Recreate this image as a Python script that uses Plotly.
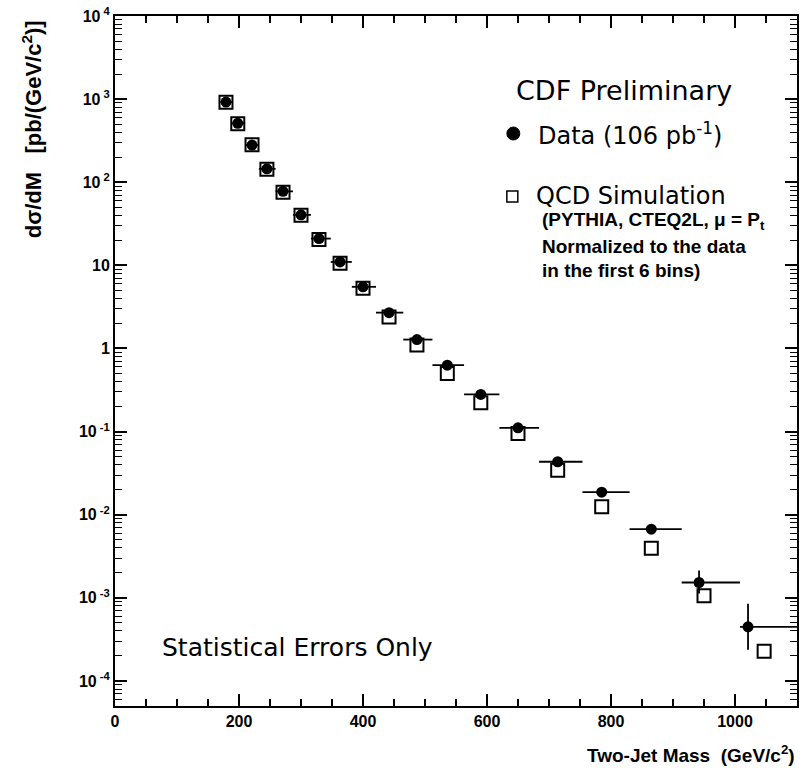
import plotly.graph_objects as go

# ---------------- data ----------------
mass = [179, 198, 221, 245, 271, 300, 329, 363, 400, 442, 487, 536, 590, 650, 714, 785, 865, 942, 1021]
bin_lo = [170, 189, 210, 232, 259, 287, 316, 348, 382, 421, 465, 512, 563, 620, 684, 754, 830, 914, 1008]
bin_hi = [189, 210, 232, 259, 287, 316, 348, 382, 421, 465, 512, 563, 620, 684, 754, 830, 914, 1008, 1100]
data_xsec = [923, 512, 280, 145, 77.7, 40.5, 21.0, 11.0, 5.52, 2.70, 1.28, 0.63, 0.28, 0.111,
             0.0434, 0.0187, 0.00671, 0.00153, 0.000448]
data_err_up = [5, 3, 2, 1.2, 0.7, 0.4, 0.25, 0.15, 0.09, 0.05, 0.03, 0.02, 0.012, 0.006,
               0.003, 0.0015, 0.0007, 0.0006, 0.0004]
data_err_dn = [5, 3, 2, 1.2, 0.7, 0.4, 0.25, 0.15, 0.09, 0.05, 0.03, 0.02, 0.012, 0.006,
               0.003, 0.0015, 0.0007, 0.0004, 0.00021]
sim_mass = [179, 198, 221, 245, 271, 300, 329, 363, 400, 442, 487, 536, 590, 650, 714, 785, 865, 950, 1047]
sim_xsec = [920, 505, 282, 143, 76, 40, 20.5, 10.6, 5.3, 2.40, 1.10, 0.50, 0.222, 0.095,
            0.0344, 0.0125, 0.00394, 0.00106, 0.000228]

y_tickvals = [1e-4, 1e-3, 1e-2, 1e-1, 1, 10, 100, 1000, 10000]
y_ticktext = ["10<sup> -4</sup>", "10<sup> -3</sup>", "10<sup> -2</sup>", "10<sup> -1</sup>",
              "1", "10", "10<sup> 2</sup>", "10<sup> 3</sup>", "10<sup> 4</sup>"]
x_tickvals = [0, 200, 400, 600, 800, 1000]

# ---------------- layout geometry (pixels) ----------------
W, H = 804, 770
ML, MR, MT, MB = 115, 5, 16, 64
PW, PH = W - ML - MR, H - MT - MB


def px(x):
    return (x - ML) / PW


def py(y):
    return (H - MB - y) / PH


ex_plus = [h - m for h, m in zip(bin_hi, mass)]
ex_minus = [m - l for m, l in zip(mass, bin_lo)]

fig = go.Figure()

fig.add_trace(go.Scatter(
    x=sim_mass, y=sim_xsec, mode="markers",
    marker=dict(symbol="square-open", size=13, color="black", line=dict(width=2, color="black")),
    showlegend=False, cliponaxis=False,
))

fig.add_trace(go.Scatter(
    x=mass, y=data_xsec, mode="markers",
    marker=dict(symbol="circle", size=11, color="black"),
    error_x=dict(type="data", array=ex_plus, arrayminus=ex_minus, symmetric=False,
                 color="black", thickness=1.8, width=0),
    error_y=dict(type="data", array=data_err_up, arrayminus=data_err_dn, symmetric=False,
                 color="black", thickness=1.8, width=0),
    showlegend=False,
))

tick_font = dict(family="Liberation Sans, Arial, sans-serif", size=16, color="black", weight="bold")
text_font = "DejaVu Sans, sans-serif"
small_font = "Liberation Sans, Arial, sans-serif"

fig.update_xaxes(
    range=[0, 1100], showgrid=False, zeroline=False,
    showline=True, linecolor="black", linewidth=2, mirror="ticks",
    ticks="inside", ticklen=12, tickwidth=1.5, tickcolor="black",
    tickvals=x_tickvals, tickfont=tick_font,
    minor=dict(ticks="inside", ticklen=7, tickwidth=1.5, tickcolor="black", dtick=50, showgrid=False),
)
fig.update_yaxes(
    type="log", range=[-4.301, 4], showgrid=False, zeroline=False,
    showline=True, linecolor="black", linewidth=2, mirror="ticks",
    ticks="inside", ticklen=12, tickwidth=1.5, tickcolor="black",
    tickvals=y_tickvals, ticktext=y_ticktext, tickfont=tick_font,
    minor=dict(ticks="inside", ticklen=7, tickwidth=1.3, tickcolor="black", dtick="D1", showgrid=False),
)

annotations = [
    dict(text="dσ/dM   [pb/(GeV/c<sup>2</sup>)]", textangle=-90,
         x=px(32), y=py(18), xanchor="center", yanchor="top",
         font=dict(family="Liberation Sans, Arial, sans-serif", size=22, color="black", weight="bold")),
    dict(text="Two-Jet Mass  (GeV/c<sup>2</sup>)",
         x=px(799), y=py(754), xanchor="right", yanchor="middle",
         font=dict(family="Liberation Sans, Arial, sans-serif", size=19, color="black", weight="bold")),
    dict(text="CDF Preliminary", x=px(515), y=py(90), xanchor="left", yanchor="middle",
         font=dict(family=text_font, size=27, color="black")),
    dict(text="Data (106 pb<sup>-1</sup>)", x=px(537), y=py(134), xanchor="left", yanchor="middle",
         font=dict(family=text_font, size=24, color="black")),
    dict(text="QCD Simulation", x=px(535), y=py(196), xanchor="left", yanchor="middle",
         font=dict(family=text_font, size=24, color="black")),
    dict(text="(PYTHIA, CTEQ2L, μ = P<sub>t</sub>", x=px(541), y=py(221), xanchor="left", yanchor="middle",
         font=dict(family=small_font, size=19, color="black", weight="bold")),
    dict(text="Normalized to the data", x=px(541), y=py(246), xanchor="left", yanchor="middle",
         font=dict(family=small_font, size=19, color="black", weight="bold")),
    dict(text="in the first 6 bins)", x=px(541), y=py(270), xanchor="left", yanchor="middle",
         font=dict(family=small_font, size=19, color="black", weight="bold")),
    dict(text="Statistical Errors Only", x=px(160), y=py(647), xanchor="left", yanchor="middle",
         font=dict(family=text_font, size=25, color="black")),
]
for a in annotations:
    a.update(xref="paper", yref="paper", showarrow=False)

shapes = [
    dict(type="circle", xref="paper", yref="paper",
         x0=px(508), x1=px(521), y0=py(140), y1=py(127),
         fillcolor="black", line=dict(color="black", width=1)),
    dict(type="rect", xref="paper", yref="paper",
         x0=px(508), x1=px(519), y0=py(202), y1=py(191),
         fillcolor="rgba(0,0,0,0)", line=dict(color="black", width=1.5)),
]

fig.update_layout(
    width=W, height=H, autosize=False,
    margin=dict(l=ML, r=MR, t=MT, b=MB),
    paper_bgcolor="white", plot_bgcolor="white",
    annotations=annotations, shapes=shapes,
    showlegend=False,
)

fig.write_html("out.html")
